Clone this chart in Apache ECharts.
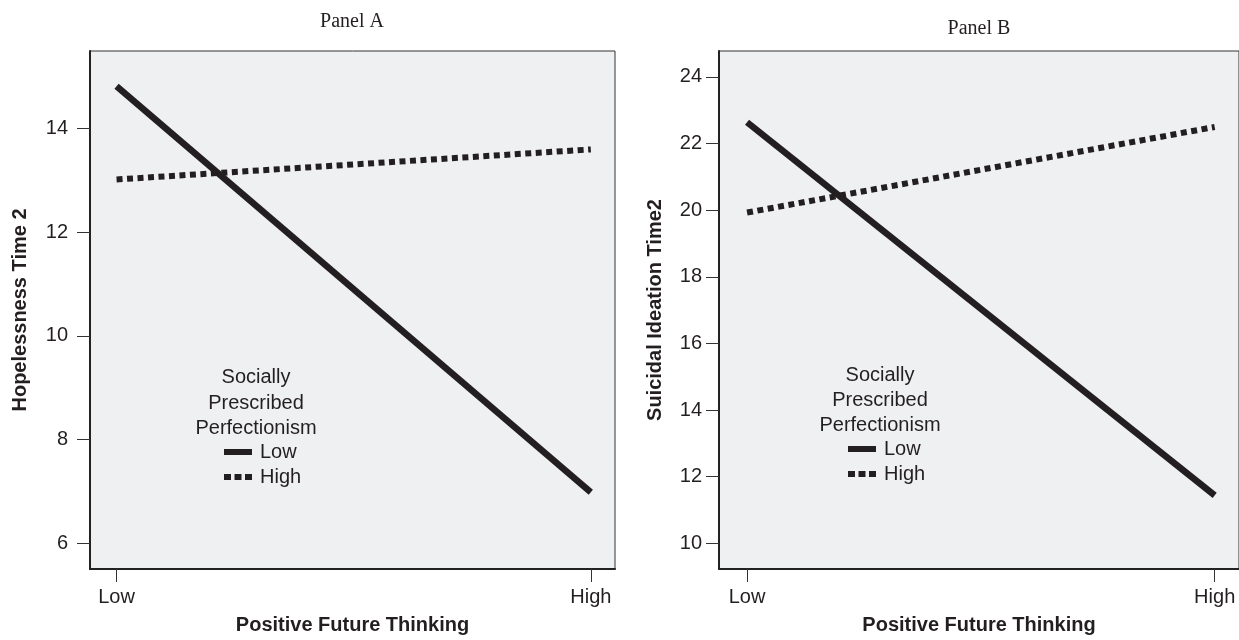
<!DOCTYPE html>
<html>
<head>
<meta charset="utf-8">
<script src="https://cdn.jsdelivr.net/npm/echarts@6/dist/echarts.min.js"></script>
<style>
html,body{margin:0;padding:0;background:#fff;}
#chart{width:1239px;height:640px;}
</style>
</head>
<body>
<div id="chart"></div>
<script>
// ---- data ----
const categories = ['Low', 'High'];            // Positive Future Thinking
const seriesNames = ['Low', 'High'];           // Socially Prescribed Perfectionism
const panelA_low = [14.82, 6.98];              // Hopelessness Time 2, SPP Low
const panelA_high = [13.02, 13.6];             // Hopelessness Time 2, SPP High
const panelB_low = [22.64, 11.44];             // Suicidal Ideation Time2, SPP Low
const panelB_high = [19.93, 22.5];             // Suicidal Ideation Time2, SPP High
const panelA_ticks = [6, 8, 10, 12, 14];
const panelB_ticks = [10, 12, 14, 16, 18, 20, 22, 24];

const ink = '#231f20';
const sans = 'Liberation Sans';
const toPts = arr => arr.map((v, i) => [i, v]);
const dottedIcon = 'path://M0,0h7v6h-7zM10.5,0h7v6h-7zM21,0h7v6h-7z';

function xAxis(gridIndex, min, max) {
  return {
    type: 'value', gridIndex, min, max,
    name: 'Positive Future Thinking', nameLocation: 'middle', nameGap: 46,
    nameTextStyle: {fontFamily: sans, fontWeight: 'bold', fontSize: 20, color: ink},
    axisLine: {show: true, onZero: false, lineStyle: {color: '#222', width: 2}},
    axisTick: {show: true, length: 13, customValues: [0, 1], lineStyle: {color: '#333', width: 1}},
    axisLabel: {customValues: [0, 1], margin: 18, fontFamily: sans, fontSize: 20, color: ink,
      formatter: v => categories[Math.round(v)]},
    splitLine: {show: false}
  };
}
function yAxis(gridIndex, min, max, ticks, name, gap, margin) {
  return {
    type: 'value', gridIndex, min, max, position: 'left',
    name, nameLocation: 'middle', nameGap: gap,
    nameTextStyle: {fontFamily: sans, fontWeight: 'bold', fontSize: 20, color: ink},
    axisLine: {show: true, onZero: false, lineStyle: {color: '#222', width: 2}},
    axisTick: {show: true, length: 13, customValues: ticks, lineStyle: {color: '#333', width: 1}},
    axisLabel: {customValues: ticks, margin, fontFamily: sans, fontSize: 20, color: ink},
    splitLine: {show: false}
  };
}
function legend(left, top) {
  return {
    orient: 'vertical', left, top, padding: 0,
    itemWidth: 28, itemHeight: 6, itemGap: 5,
    selectedMode: false,
    itemStyle: {borderWidth: 0},
    textStyle: {fontFamily: sans, fontSize: 20, color: ink, padding: [0, 0, 0, 3]},
    data: [{name: seriesNames[0], icon: 'rect'}, {name: seriesNames[1], icon: dottedIcon}]
  };
}
function lineSeries(name, data, xi, dotted) {
  return {
    type: 'line', name, xAxisIndex: xi, yAxisIndex: xi, data: toPts(data),
    symbol: 'none', silent: true,
    itemStyle: {color: ink},
    lineStyle: dotted ? {color: ink, width: 6, type: [6, 4.5], cap: 'butt'}
                      : {color: ink, width: 6.5, cap: 'butt'}
  };
}

const chart = echarts.init(document.getElementById('chart'));
chart.setOption({
  backgroundColor: '#ffffff',
  animation: false,
  title: [
    {text: 'Panel A', left: 352, top: 12, textAlign: 'center', padding: 0,
     textStyle: {fontFamily: 'Liberation Serif', fontWeight: 'normal', fontSize: 20, color: ink}},
    {text: 'Panel B', left: 979, top: 19, textAlign: 'center', padding: 0,
     textStyle: {fontFamily: 'Liberation Serif', fontWeight: 'normal', fontSize: 20, color: ink}},
    {text: 'Socially\nPrescribed\nPerfectionism', left: 256, top: 365, textAlign: 'center', padding: 0,
     textStyle: {fontFamily: sans, fontWeight: 'normal', fontSize: 20, lineHeight: 25.5, color: ink}},
    {text: 'Socially\nPrescribed\nPerfectionism', left: 880, top: 363, textAlign: 'center', padding: 0,
     textStyle: {fontFamily: sans, fontWeight: 'normal', fontSize: 20, lineHeight: 25, color: ink}}
  ],
  legend: [legend(224, 442), legend(848, 439)],
  grid: [
    {left: 90, top: 51, width: 525, height: 521, show: true, backgroundColor: '#eff0f2',
     borderColor: '#333', borderWidth: 1, containLabel: false},
    {left: 719, top: 51, width: 524, height: 521, show: true, backgroundColor: '#eff0f2',
     borderColor: '#333', borderWidth: 1, containLabel: false}
  ],
  xAxis: [xAxis(0, -0.056, 1.051), xAxis(1, -0.06, 1.052)],
  yAxis: [
    yAxis(0, 5.5, 15.5, panelA_ticks, 'Hopelessness Time 2', 60, 22),
    yAxis(1, 9.23, 24.78, panelB_ticks, 'Suicidal Ideation Time2', 54, 17)
  ],
  series: [
    lineSeries(seriesNames[0], panelA_low, 0, false),
    lineSeries(seriesNames[1], panelA_high, 0, true),
    lineSeries(seriesNames[0], panelB_low, 1, false),
    lineSeries(seriesNames[1], panelB_high, 1, true)
  ]
});
</script>
</body>
</html>
